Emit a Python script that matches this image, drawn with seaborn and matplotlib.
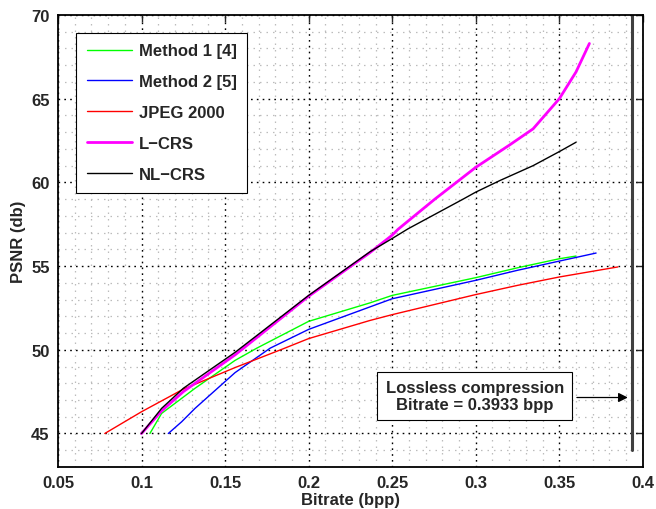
import numpy as np
import pandas as pd
import seaborn as sns
import matplotlib
matplotlib.use("Agg")
import matplotlib.pyplot as plt
from matplotlib.ticker import MultipleLocator

# curves (bitrate in bpp, PSNR in dB)
m1_x = [0.105, 0.112, 0.132, 0.156, 0.169, 0.200, 0.2366, 0.250, 0.300, 0.325, 0.350, 0.360]
m1_y = [45.0, 46.2, 47.7, 49.37, 50.1, 51.7, 52.8, 53.25, 54.31, 54.9, 55.44, 55.6]

m2_x = [0.116, 0.124, 0.132, 0.156, 0.177, 0.200, 0.2366, 0.250, 0.300, 0.325, 0.350, 0.372]
m2_y = [45.0, 45.7, 46.5, 48.64, 50.1, 51.22, 52.56, 53.05, 54.15, 54.75, 55.3, 55.78]

jp_x = [0.078, 0.100, 0.125, 0.156, 0.185, 0.200, 0.2366, 0.250, 0.300, 0.325, 0.350, 0.385]
jp_y = [45.0, 46.3, 47.65, 48.94, 50.07, 50.67, 51.75, 52.1, 53.3, 53.85, 54.35, 54.95]

lcrs_x = [0.100, 0.112, 0.125, 0.156, 0.200, 0.2366, 0.250, 0.2535, 0.2755, 0.300, 0.3203, 0.3343, 0.350, 0.360, 0.368]
lcrs_y = [45.0, 46.35, 47.5, 49.7, 53.2, 55.8, 56.85, 57.2, 59.0, 60.9, 62.24, 63.2, 65.0, 66.6, 68.3]

nl_x = [0.100, 0.112, 0.125, 0.156, 0.200, 0.2366, 0.250, 0.2595, 0.2924, 0.300, 0.3144, 0.3343, 0.350, 0.360]
nl_y = [45.0, 46.5, 47.7, 49.85, 53.25, 55.85, 56.65, 57.23, 59.0, 59.42, 60.11, 61.0, 61.84, 62.4]

names = ["Method 1 [4]", "Method 2 [5]", "JPEG 2000", "L\u2212CRS", "NL\u2212CRS"]
colors = ["#00ff00", "#0000ff", "#ff0000", "#ff00ff", "#000000"]
widths = [1.0, 1.0, 1.0, 2.0, 1.0]
series = [(m1_x, m1_y), (m2_x, m2_y), (jp_x, jp_y), (lcrs_x, lcrs_y), (nl_x, nl_y)]

lossless = 0.3933

sns.set_style("white")
plt.rcParams['font.family'] = ['Liberation Sans', 'DejaVu Sans']
plt.rcParams['font.weight'] = 'bold'

fig = plt.figure(figsize=(6.56, 5.10), dpi=100)
ax = fig.add_axes([0.0884, 0.0824, 0.8916, 0.8862])

for (xs, ys), name, c, w in zip(series, names, colors, widths):
    df = pd.DataFrame({"Bitrate": xs, "PSNR": ys})
    sns.lineplot(data=df, x="Bitrate", y="PSNR", color=c, linewidth=w,
                 label=name, sort=False, estimator=None, ax=ax)

# lossless marker
ax.plot([lossless, lossless], [44, 70], color="#404040", linewidth=2.2)
ax.annotate("", xy=(0.391, 47.15), xytext=(0.3605, 47.15),
            arrowprops=dict(arrowstyle="-|>", color="black", lw=0.9,
                            mutation_scale=14, shrinkA=0, shrinkB=0))
ax.text(0.2994, 47.24, "Lossless compression\nBitrate = 0.3933 bpp",
        ha="center", va="center", fontsize=12, fontweight="bold",
        linespacing=1.1,
        bbox=dict(boxstyle="square,pad=0.5", facecolor="white",
                  edgecolor="black", linewidth=0.8))

ax.set_xlim(0.05, 0.4)
ax.set_ylim(43, 70)
ax.xaxis.set_major_locator(MultipleLocator(0.05))
ax.xaxis.set_minor_locator(MultipleLocator(0.01))
ax.yaxis.set_major_locator(MultipleLocator(5))
ax.yaxis.set_minor_locator(MultipleLocator(1))
ax.set_xticks(np.arange(0.05, 0.401, 0.05))
ax.set_xticklabels(["0.05", "0.1", "0.15", "0.2", "0.25", "0.3", "0.35", "0.4"])

ax.grid(which="major", linestyle=(0, (1.2, 3)), color="black", linewidth=1.0)
ax.grid(which="minor", linestyle=(0, (1.2, 4)), color="#bcbcbc", linewidth=0.9)
ax.set_axisbelow(True)

ax.tick_params(which="major", direction="in", length=5, width=1,
               top=True, right=True, labelsize=12, pad=6)
ax.tick_params(which="minor", length=0)
for lab in ax.get_xticklabels() + ax.get_yticklabels():
    lab.set_fontweight("bold")
for s in ax.spines.values():
    s.set_linewidth(1.3)
    s.set_color("black")

ax.set_xlabel("Bitrate (bpp)", fontsize=12, fontweight="bold", labelpad=1)
ax.set_ylabel("PSNR (db)", fontsize=12, fontweight="bold", labelpad=4)

leg = ax.legend(loc="upper left", bbox_to_anchor=(0.031, 0.961), fontsize=12,
                frameon=True, fancybox=False, framealpha=1, edgecolor="black",
                handlelength=2.7, handletextpad=0.4, labelspacing=0.95,
                borderpad=0.65, borderaxespad=0)
leg.get_frame().set_linewidth(0.8)
for t in leg.get_texts():
    t.set_fontweight("bold")

fig.savefig("out.png", dpi=100)
